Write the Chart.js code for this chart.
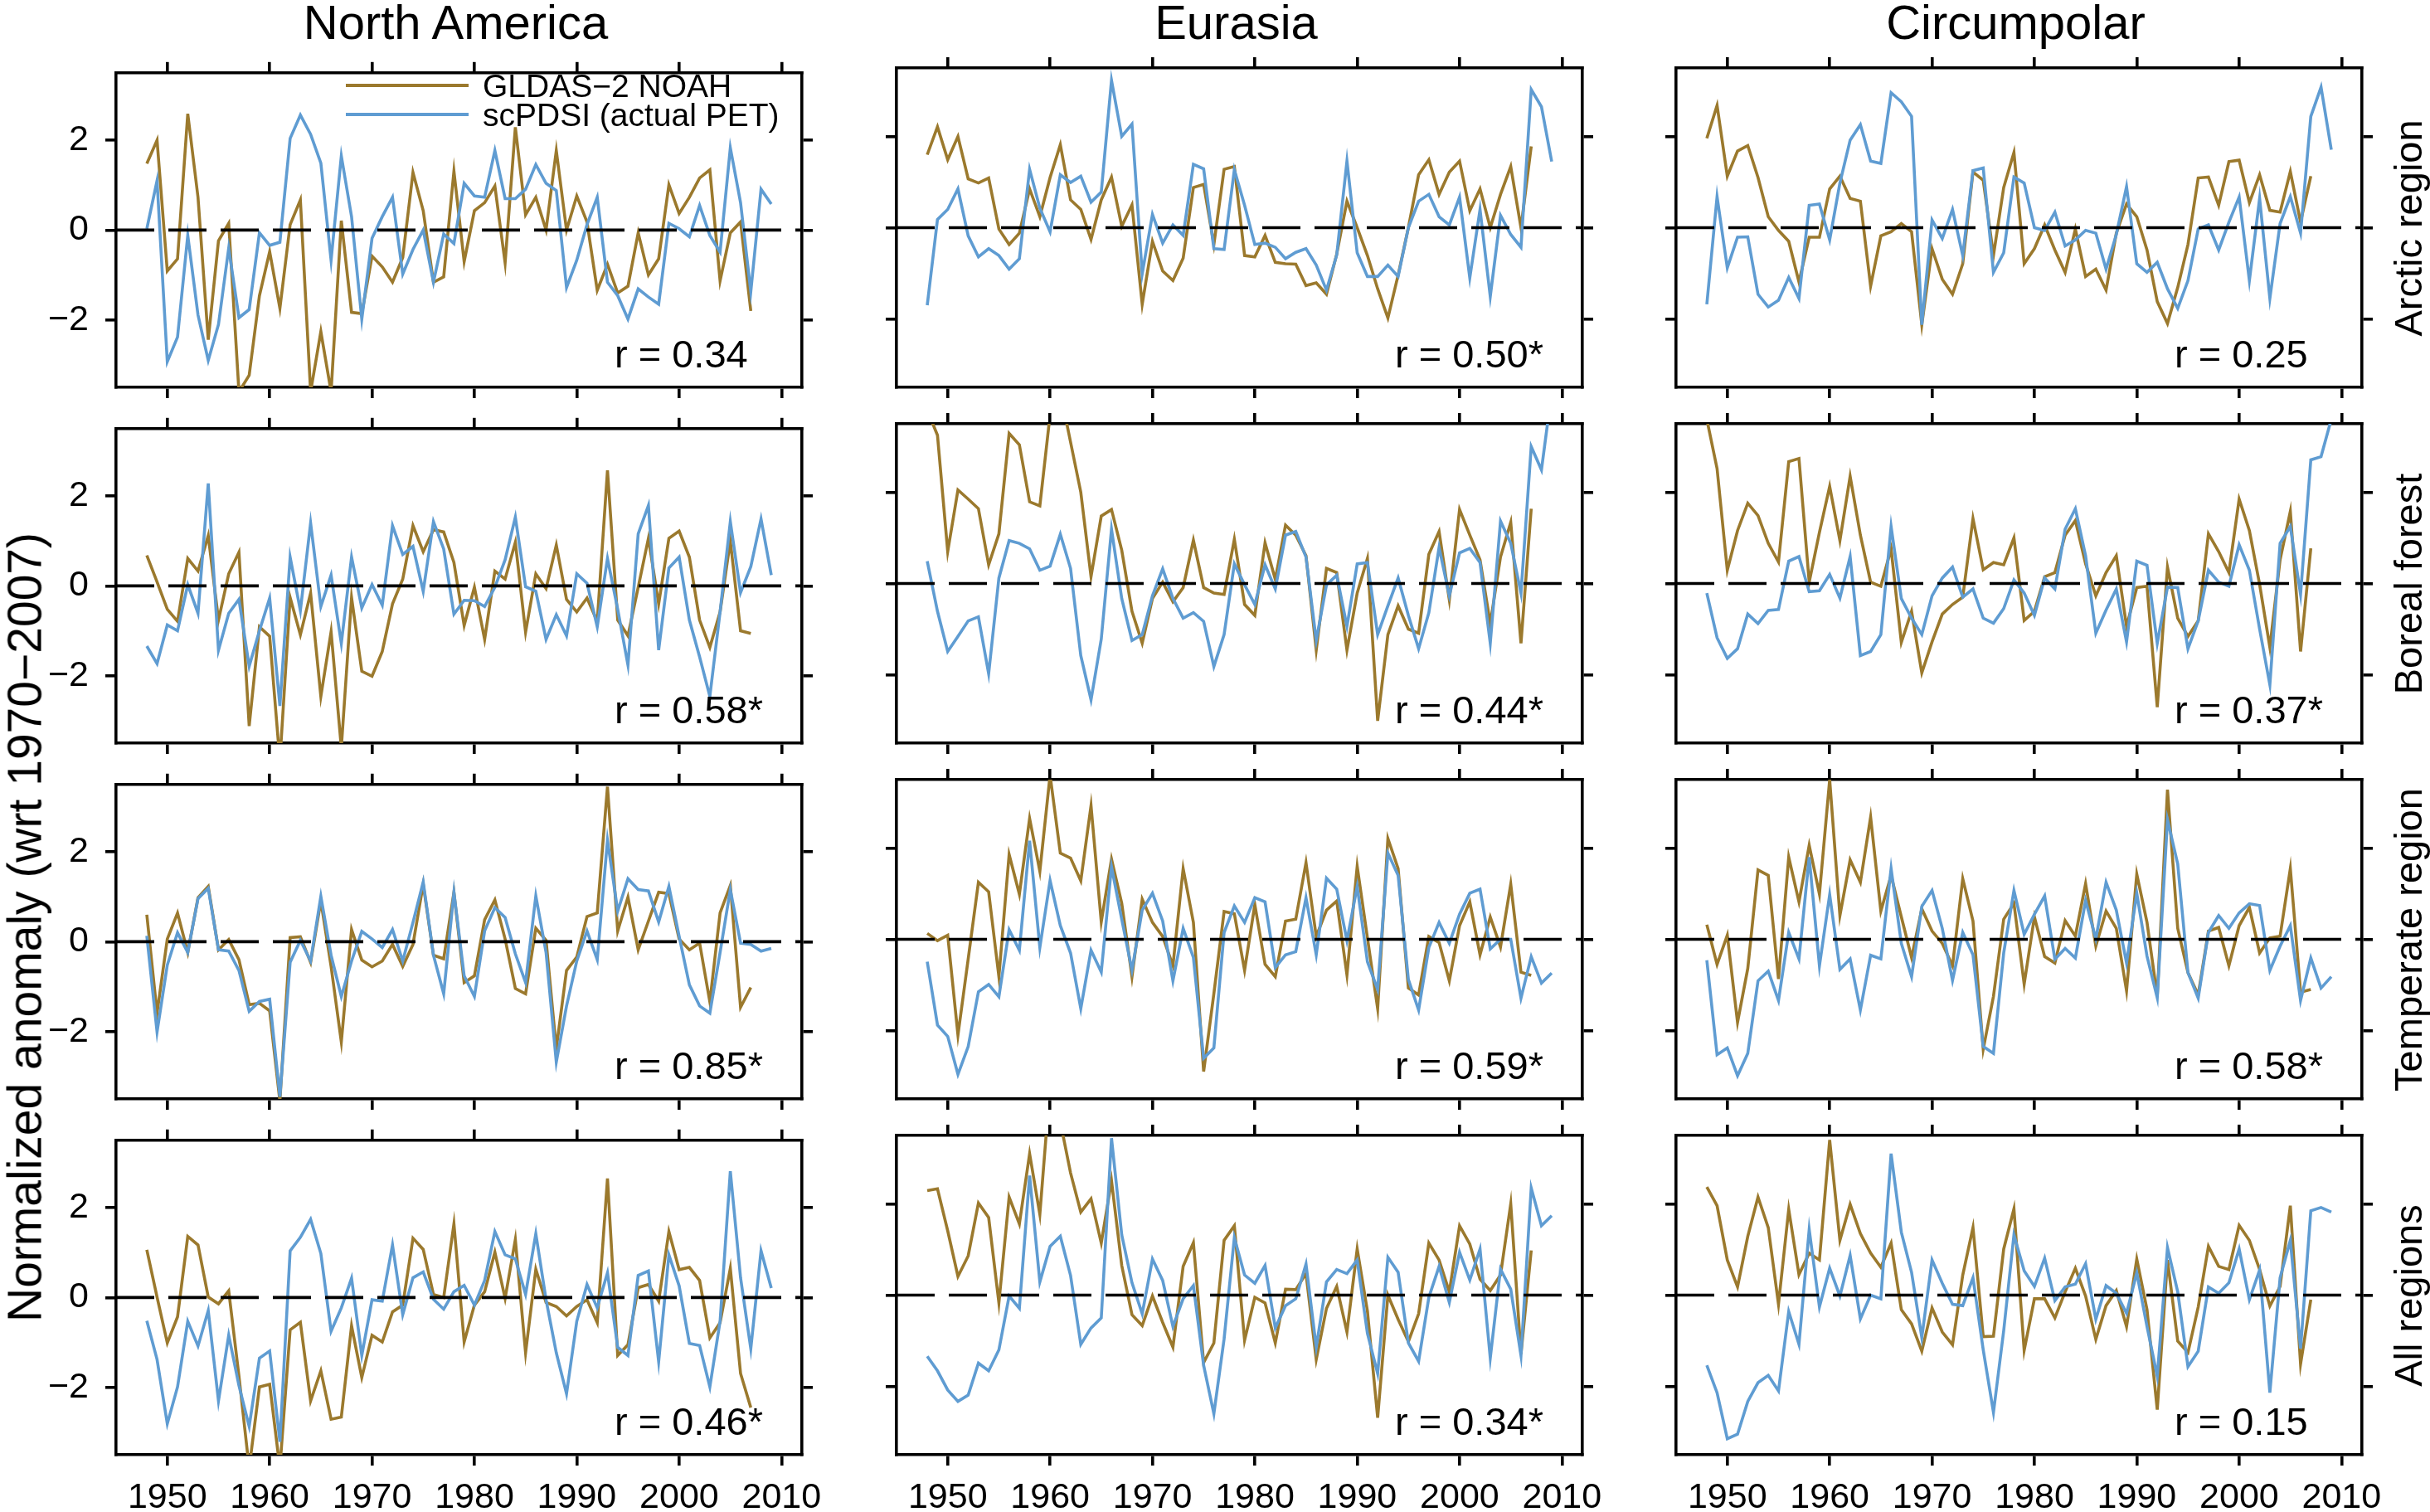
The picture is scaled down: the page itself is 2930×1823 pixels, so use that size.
<!DOCTYPE html>
<html>
<head>
<meta charset="utf-8">
<script src="https://cdn.jsdelivr.net/npm/chart.js@4.4.1/dist/chart.umd.min.js"></script>
<style>
html,body{margin:0;padding:0;background:#fff;width:2930px;height:1823px;overflow:hidden;font-family:"Liberation Sans",Arial,sans-serif;}
#wrap{position:relative;width:2930px;height:1823px;}
canvas{position:absolute;}
.txt{position:absolute;white-space:nowrap;color:#000;}
.sw{position:absolute;height:3.5px;}
</style>
</head>
<body>
<div id="wrap"></div>
<script>
// ---------------- DATA ----------------
const gldasYears = [1948,1949,1950,1951,1952,1953,1954,1955,1956,1957,1958,1959,1960,1961,1962,1963,1964,1965,1966,1967,1968,1969,1970,1971,1972,1973,1974,1975,1976,1977,1978,1979,1980,1981,1982,1983,1984,1985,1986,1987,1988,1989,1990,1991,1992,1993,1994,1995,1996,1997,1998,1999,2000,2001,2002,2003,2004,2005,2006,2007];
const pdsiYears = [1948,1949,1950,1951,1952,1953,1954,1955,1956,1957,1958,1959,1960,1961,1962,1963,1964,1965,1966,1967,1968,1969,1970,1971,1972,1973,1974,1975,1976,1977,1978,1979,1980,1981,1982,1983,1984,1985,1986,1987,1988,1989,1990,1991,1992,1993,1994,1995,1996,1997,1998,1999,2000,2001,2002,2003,2004,2005,2006,2007,2008,2009];
const xTicks = [1950,1960,1970,1980,1990,2000,2010];
const xTickLabels = ['1950','1960','1970','1980','1990','2000','2010'];
const yTicks = [-2,0,2];
const yTickLabels = ['\u22122','0','2'];
const columnTitles = ['North America','Eurasia','Circumpolar'];
const rowTitles = ['Arctic region','Boreal forest','Temperate region','All regions'];
const seriesNames = ['GLDAS\u22122 NOAH','scPDSI (actual PET)'];
const yAxisTitle = 'Normalized anomaly (wrt 1970\u22122007)';
const rLabels = ['r = 0.34','r = 0.50*','r = 0.25','r = 0.58*','r = 0.44*','r = 0.37*','r = 0.85*','r = 0.59*','r = 0.58*','r = 0.46*','r = 0.34*','r = 0.15'];

const naArcticGldas = [1.48,2.0,-0.91,-0.64,2.59,0.73,-2.44,-0.24,0.15,-3.6, -3.23,-1.46,-0.48,-1.74,0.12,0.67,-3.6,-2.26,-3.6,0.21, -1.83,-1.86,-0.58,-0.82,-1.16,-0.61,1.28,0.43,-1.16,-1.04, 1.31,-0.70,0.43,0.61,0.98,-0.73,2.29,0.34,0.73,0, 1.77,0,0.76,0.18,-1.34,-0.76,-1.40,-1.25,-0.06,-1.0, -0.64,1.01,0.37,0.73,1.16,1.34,-1.13,-0.06,0.18,-1.80];
const naArcticPdsi = [0.03,1.10,-2.93,-2.38,-0.12,-1.89,-2.90,-2.10,-0.40,-1.95, -1.77,-0.06,-0.34,-0.27,2.04,2.56,2.13,1.49,-0.67,1.65, 0.30,-1.98,-0.18,0.30,0.73,-0.98,-0.43,0,-1.16,-0.09, -0.30,1.04,0.76,0.73,1.77,0.70,0.70,0.91,1.46,1.04, 0.88,-1.28,-0.67,0.12,0.73,-1.16,-1.46,-1.98,-1.31,-1.49, -1.65,0.15,0.03,-0.15,0.55,-0.12,-0.49,1.83,0.61,-1.37, 0.91,0.58];
const euArcticGldas = [1.60,2.21,1.49,2.0,1.07,0.98,1.09,-0.03,-0.37,-0.12, 0.85,0.24,1.10,1.82,0.61,0.40,-0.26,0.61,1.11,0.03, 0.50,-1.68,-0.30,-0.95,-1.16,-0.67,0.88,0.95,-0.37,1.28, 1.34,-0.61,-0.64,-0.17,-0.76,-0.79,-0.80,-1.27,-1.21,-1.46, -0.58,0.58,0,-0.61,-1.34,-1.98,-1.04,0,1.16,1.49, 0.73,1.22,1.46,0.37,0.85,0,0.73,1.34,0,1.78];
const euArcticPdsi = [-1.70,0.18,0.40,0.85,-0.18,-0.64,-0.46,-0.61,-0.91,-0.68, 1.28,0.43,-0.09,1.16,0.99,1.13,0.56,0.78,3.23,2.0, 2.27,-1.01,0.29,-0.34,0.06,-0.17,1.39,1.29,-0.46,-0.48, 1.27,0.49,-0.37,-0.34,-0.43,-0.68,-0.54,-0.46,-0.82,-1.37, -0.60,1.46,-0.55,-1.07,-1.07,-0.82,-1.07,0,0.58,0.73, 0.24,0.06,0.67,-1.10,0.40,-1.51,0.27,-0.15,-0.43,3.03, 2.65,1.45];
const cpArcticGldas = [1.96,2.68,1.13,1.68,1.80,1.10,0.24,-0.06,-0.30,-1.19, -0.21,-0.21,0.85,1.13,0.64,0.58,-1.28,-0.18,-0.09,0.09, -0.09,-2.13,-0.46,-1.13,-1.46,-0.79,1.22,1.04,-0.61,0.88, 1.65,-0.79,-0.46,0.06,-0.49,-0.98,-0.03,-1.07,-0.91,-1.37, -0.12,0.52,0.24,-0.49,-1.62,-2.10,-1.31,-0.37,1.09,1.11, 0.49,1.45,1.48,0.55,1.16,0.38,0.34,1.23,0.12,1.13];
const cpArcticPdsi = [-1.68,0.68,-0.88,-0.21,-0.20,-1.46,-1.74,-1.59,-1.09,-1.55, 0.49,0.52,-0.27,0.98,1.92,2.26,1.46,1.41,2.96,2.76, 2.44,-2.13,0.17,-0.24,0.40,-0.61,1.25,1.31,-0.98,-0.55, 1.11,0.98,0,-0.06,0.34,-0.40,-0.27,-0.06,-0.12,-0.91, -0.15,0.90,-0.79,-0.98,-0.76,-1.34,-1.77,-1.16,-0.03,0.06, -0.49,0.12,0.67,-1.16,0.64,-1.55,0.09,0.68,-0.12,2.44, 3.08,1.71];

const naBorealGldas = [0.68,0.09,-0.52,-0.79,0.61,0.33,1.12,-0.76,0.27,0.75, -3.12,-0.91,-1.12,-3.9,-0.26,-1.09,-0.16,-2.46,-1.02,-3.6, -0.26,-1.90,-2.01,-1.46,-0.40,0.15,1.34,0.76,1.25,1.20, 0.52,-0.88,-0.03,-1.19,0.33,0.15,0.97,-1.03,0.27,-0.06, 0.91,-0.30,-0.58,-0.27,-0.79,2.57,-0.76,-1.11,-0.03,1.06, -0.40,1.06,1.22,0.64,-0.76,-1.37,-0.58,1.00,-1.00,-1.06];
const naBorealPdsi = [-1.34,-1.73,-0.87,-1.00,0.03,-0.61,2.28,-1.43,-0.61,-0.30, -1.79,-1.00,-0.27,-2.67,0.64,-0.55,1.40,-0.46,0.24,-1.28, 0.64,-0.49,0.03,-0.43,1.34,0.70,0.88,-0.12,1.43,0.82, -0.63,-0.32,-0.33,-0.46,-0.03,0.58,1.53,-0.02,-0.12,-1.19, -0.64,-1.11,0.27,0.06,-0.91,0.61,-0.52,-1.76,1.16,1.79, -1.43,0.40,0.64,-0.76,-1.58,-2.46,-0.58,1.43,-0.15,0.43, 1.49,0.24];
const euBorealGldas = [3.8,3.25,0.70,2.05,1.85,1.64,0.41,1.09,3.29,3.04, 1.79,1.70,3.7,4.2,3.1,2.0,0.15,1.48,1.62,0.73, -0.61,-1.31,-0.33,0.03,-0.40,-0.09,0.95,-0.09,-0.21,-0.24, 0.97,-0.46,-0.70,0.89,0.09,1.28,1.06,0.61,-1.46,0.33, 0.24,-1.46,-0.21,0.55,-3.01,-1.12,-0.49,-1.00,-1.09,0.64, 1.14,-0.36,1.62,1.06,0.52,-0.88,0.58,1.34,-1.31,1.64];
const euBorealPdsi = [0.49,-0.61,-1.49,-1.16,-0.82,-0.73,-1.98,0.12,0.94,0.88, 0.76,0.29,0.38,1.08,0.33,-1.58,-2.55,-1.22,1.19,-0.33, -1.25,-1.12,-0.27,0.32,-0.33,-0.76,-0.64,-0.83,-1.82,-1.12, 0.43,-0.03,-0.46,0.41,-0.12,1.06,1.14,0.58,-1.25,-0.03, 0.18,-0.94,0.43,0.46,-1.12,-0.49,0.12,-0.70,-1.43,-0.64, 0.79,-0.27,0.67,0.77,0.46,-1.31,1.37,0.88,-0.21,3.00, 2.49,4.2];
const cpBorealGldas = [3.6,2.52,0.29,1.16,1.76,1.49,0.88,0.47,2.67,2.74, 0.03,1.12,2.13,0.94,2.35,1.06,0.03,-0.06,0.76,-1.29, -0.61,-1.96,-1.28,-0.67,-0.46,-0.30,1.42,0.30,0.46,0.41, 1.00,-0.81,-0.61,0.15,0.24,1.06,1.38,0.43,-0.27,0.24, 0.61,-0.94,-0.09,-0.06,-2.71,0.36,-0.76,-1.16,-0.82,1.09, 0.70,0.24,1.85,1.16,-0.02,-1.40,0.52,1.58,-1.49,0.77];
const cpBorealPdsi = [-0.21,-1.19,-1.64,-1.43,-0.67,-0.88,-0.59,-0.57,0.49,0.59, -0.18,-0.16,0.20,-0.32,0.59,-1.58,-1.49,-1.12,1.25,-0.33, -0.76,-1.12,-0.27,0.12,0.36,-0.30,-0.12,-0.76,-0.87,-0.55, 0.08,-0.21,-0.70,0.12,-0.12,1.19,1.64,0.61,-1.09,-0.58, -0.12,-1.28,0.49,0.40,-1.31,-0.08,-0.09,-1.43,-0.82,0.29, 0.03,-0.06,0.85,0.29,-1.00,-2.22,0.88,1.25,-0.24,2.71, 2.78,3.6];

const naTemperateGldas = [0.60,-1.59,0.06,0.64,-0.24,0.98,1.23,-0.18,0.05,-0.40, -1.40,-1.37,-1.54,-3.55,0.09,0.11,-0.46,0.91,-0.55,-2.23, 0.27,-0.41,-0.56,-0.43,-0.06,-0.55,-0.06,1.28,-0.30,-0.38, 1.10,-0.91,-0.76,0.49,0.93,0.06,-1.04,-1.16,0.30,0.03, -2.38,-0.64,-0.34,0.56,0.64,3.45,0.24,0.99,-0.18,0.46, 1.10,1.07,0.06,-0.18,-0.03,-1.34,0.64,1.25,-1.46,-1.02];
const naTemperatePdsi = [0.13,-2.01,-0.52,0.20,-0.24,0.96,1.19,-0.18,-0.21,-0.64, -1.55,-1.33,-1.28,-3.45,-0.46,0.03,-0.43,1.01,-0.30,-1.22, -0.43,0.23,0.06,-0.13,0.27,-0.43,0.43,1.33,-0.30,-1.16, 1.10,-0.76,-1.22,0.24,0.76,0.54,-0.27,-0.91,1.02,-0.24, -2.68,-1.43,-0.43,0.24,-0.40,2.26,0.68,1.40,1.16,1.13, 0.44,1.23,0.12,-0.96,-1.43,-1.59,-0.24,1.16,-0.03,-0.06, -0.21,-0.15];
const euTemperateGldas = [0.13,-0.03,0.09,-2.10,-0.43,1.25,1.04,-0.82,1.86,0.99, 2.65,1.49,3.6,1.89,1.78,1.28,2.93,0.38,1.76,0.79, -0.82,0.88,0.37,0.06,-0.58,1.55,0.37,-2.90,-1.19,0.61, 0.56,-0.68,0.76,-0.55,-0.82,0.40,0.44,1.68,0.06,0.64, 0.84,-0.78,1.60,0.03,-1.52,2.21,1.55,-1.07,-1.22,0.06, -0.07,-0.91,0.30,0.82,-0.34,0.49,-0.17,1.21,-0.72,-0.79];
const euTemperatePdsi = [-0.49,-1.88,-2.13,-2.96,-2.35,-1.15,-0.99,-1.26,0.21,-0.24, 2.16,-0.18,1.29,0.30,-0.30,-1.52,-0.24,-0.72,1.59,0.44, -0.68,0.64,1.01,0.40,-0.91,0.24,-0.40,-2.61,-2.38,0.15, 0.73,0.37,0.91,0.82,-0.62,-0.34,-0.27,0.91,-0.34,1.34, 1.10,-0.03,1.16,-0.49,-1.10,1.89,1.40,-0.88,-1.55,-0.18, 0.37,-0.09,0.55,1.01,1.10,-0.21,0,0,-1.29,-0.38, -0.96,-0.74];
const cpTemperateGldas = [0.32,-0.55,0.09,-1.82,-0.64,1.52,1.40,-0.87,1.80,0.82, 2.06,0.99,3.5,0.52,1.74,1.25,2.68,0.62,1.40,0.49, -0.40,0.67,0.18,-0.09,-0.58,1.33,0.40,-2.41,-1.25,0.44, 0.79,-0.98,0.49,-0.38,-0.52,0.41,0.07,1.22,-0.15,0.62, 0.24,-1.13,1.43,0.37,-1.25,3.28,0.24,-0.73,-1.22,0.18, 0.26,-0.58,0.30,0.70,-0.30,0.03,0.07,1.55,-1.16,-1.10];
const cpTemperatePdsi = [-0.46,-2.53,-2.38,-2.99,-2.50,-0.91,-0.70,-1.34,0.15,-0.43, 1.80,-0.58,0.98,-0.66,-0.43,-1.55,-0.35,-0.43,1.55,-0.09, -0.82,0.72,1.07,0.24,-0.90,0.15,-0.34,-2.35,-2.50,-0.30, 1.07,0.11,0.55,0.95,-0.44,-0.20,-0.41,0.85,0.01,1.25, 0.64,-0.52,1.01,-0.37,-1.28,2.62,1.65,-0.73,-1.29,0.15, 0.52,0.24,0.58,0.78,0.74,-0.68,-0.15,0.30,-1.34,-0.41, -1.07,-0.82];

const naAllGldas = [1.06,0.01,-1.01,-0.43,1.36,1.17,0.01,-0.14,0.15,-1.75, -3.8,-1.99,-1.93,-3.8,-0.72,-0.55,-2.30,-1.63,-2.71,-2.66, -0.63,-1.78,-0.84,-0.99,-0.32,-0.17,1.32,1.07,0.07,0, 1.64,-0.99,-0.17,0.13,1.01,-0.02,1.29,-1.23,0.63,-0.11, -0.20,-0.41,-0.20,-0.05,-0.56,2.65,-1.29,-1.05,0.22,0.29, -0.08,1.47,0.62,0.67,0.38,-0.90,-0.56,0.65,-1.69,-2.45];
const naAllPdsi = [-0.52,-1.38,-2.81,-1.99,-0.53,-1.08,-0.29,-2.30,-0.84,-1.96, -2.87,-1.35,-1.19,-3.21,1.04,1.34,1.74,0.98,-0.75,-0.23, 0.43,-1.29,-0.05,-0.08,1.17,-0.38,0.44,0.57,-0.04,-0.26, 0.13,0.27,-0.17,0.38,1.47,0.95,0.86,0.07,1.42,-0.05, -1.23,-2.14,-0.53,0.29,-0.23,0.55,-1.11,-1.29,0.49,0.59, -1.43,0.95,0.26,-1.02,-1.07,-1.99,-0.53,2.81,0.44,-1.14, 1.04,0.21];
const euAllGldas = [2.29,2.33,1.41,0.41,0.86,2.02,1.70,-0.17,2.15,1.56, 3.10,1.77,4.6,3.8,2.68,1.82,2.11,1.14,2.51,0.65, -0.43,-0.67,-0.02,-0.60,-1.14,0.63,1.15,-1.48,-1.05,1.20, 1.52,-0.99,-0.05,-0.17,-1.05,0.13,0.12,0.47,-1.41,-0.29, 0.19,-0.81,1.01,-0.35,-2.69,0,-0.53,-1.02,-0.41,1.14, 0.77,0.07,1.52,1.12,0.35,0.10,0.44,2.00,-1.29,0.98];
const euAllPdsi = [-1.34,-1.66,-2.08,-2.33,-2.19,-1.49,-1.66,-1.20,-0.02,-0.29, 2.62,0.29,1.07,1.29,0.43,-1.08,-0.72,-0.50,3.44,1.32, 0.27,-0.41,0.79,0.32,-0.69,-0.08,0.21,-1.54,-2.60,-0.96, 1.26,0.44,0.26,0.65,-0.72,-0.23,-0.08,0.68,-1.14,0.29, 0.56,0.47,0.77,-0.84,-1.72,0.83,0.50,-1.05,-1.45,-0.05, 0.63,-0.16,0.94,0.33,1.01,-1.38,0.57,0.13,-1.32,2.35, 1.52,1.74];
const cpAllGldas = [2.37,1.96,0.77,0.18,1.29,2.15,1.48,-0.20,1.88,0.45, 0.92,0.77,3.40,1.20,1.99,1.35,0.92,0.61,1.14,-0.32, -0.63,-1.23,-0.28,-0.81,-1.09,0.44,1.48,-0.91,-0.90,1.01, 1.89,-1.21,-0.08,-0.08,-0.50,0.07,0.59,-0.02,-0.97,-0.23, 0.10,-0.69,0.79,-0.32,-2.51,0.77,-1.01,-1.26,-0.26,1.07, 0.63,0.56,1.53,1.20,0.56,-0.24,0.19,1.96,-1.51,-0.10];
const cpAllPdsi = [-1.54,-2.14,-3.15,-3.05,-2.33,-1.92,-1.76,-2.10,-0.36,-1.08, 1.44,-0.26,0.59,-0.02,0.87,-0.52,0,-0.08,3.10,1.38, 0.50,-0.93,0.77,0.26,-0.20,-0.23,0.38,-1.20,-2.57,-0.78, 1.32,0.53,0.19,0.81,-0.12,0.18,0.24,0.69,-0.53,0.21, 0.04,-0.40,0.49,-0.69,-1.78,1.04,0.07,-1.57,-1.23,0.18, 0.04,0.27,1.01,-0.10,0.55,-2.14,0.38,1.20,-1.17,1.85, 1.92,1.82];

// ---------------- LAYOUT / STYLE ----------------
const BROWN = '#9b792d';
const BLUE = '#5f9cd2';
const X_MIN = 1945, X_MAX = 2012, Y_MIN = -3.5, Y_MAX = 3.5;
const PANEL_LEFT = [140, 1081, 2021];
const PANEL_TOP = [82, 511, 940, 1369];
const PANEL_W = 827, PANEL_H = 385;
const PAD_L = 140, PAD_R = 40, PAD_T = 40, PAD_B = 68;
const FONT = '"Liberation Sans", Arial, Helvetica, sans-serif';
const LINE_W = 3.6, FRAME_W = 3.6;

Chart.defaults.font.family = FONT;
Chart.defaults.color = '#000';

const panels = [
  [naArcticGldas, naArcticPdsi], [euArcticGldas, euArcticPdsi], [cpArcticGldas, cpArcticPdsi],
  [naBorealGldas, naBorealPdsi], [euBorealGldas, euBorealPdsi], [cpBorealGldas, cpBorealPdsi],
  [naTemperateGldas, naTemperatePdsi], [euTemperateGldas, euTemperatePdsi], [cpTemperateGldas, cpTemperatePdsi],
  [naAllGldas, naAllPdsi], [euAllGldas, euAllPdsi], [cpAllGldas, cpAllPdsi]
];

const zeroLine = {
  id: 'zeroLine',
  afterDatasetsDraw(chart) {
    const {ctx, chartArea, scales} = chart;
    const y = scales.y.getPixelForValue(0);
    ctx.save();
    ctx.strokeStyle = '#000';
    ctx.lineWidth = 3.6;
    ctx.setLineDash([46, 17]);
    ctx.beginPath();
    ctx.moveTo(chartArea.left, y);
    ctx.lineTo(chartArea.right, y);
    ctx.stroke();
    ctx.restore();
  }
};

const wrap = document.getElementById('wrap');

function axisCommon() {
  return {
    border: {display: true, color: '#000', width: FRAME_W},
    grid: {drawOnChartArea: false, drawTicks: true, tickLength: 13, color: '#000', lineWidth: FRAME_W, tickWidth: FRAME_W, tickColor: '#000'}
  };
}

function makePanel(idx) {
  const row = Math.floor(idx / 3), col = idx % 3;
  const [gl, pd] = panels[idx];
  const cv = document.createElement('canvas');
  const W = PAD_L + PANEL_W + PAD_R, H = PAD_T + PANEL_H + PAD_B;
  cv.width = W; cv.height = H;
  cv.style.left = (PANEL_LEFT[col] - PAD_L) + 'px';
  cv.style.top = (PANEL_TOP[row] - PAD_T) + 'px';
  cv.style.width = W + 'px'; cv.style.height = H + 'px';
  wrap.appendChild(cv);
  const showY = col === 0, showX = row === 3;
  new Chart(cv, {
    type: 'line',
    data: {
      datasets: [
        {label: seriesNames[0], data: gldasYears.map((yr, i) => ({x: yr, y: gl[i]})), borderColor: BROWN, borderWidth: LINE_W, pointRadius: 0, tension: 0, fill: false, order: 1},
        {label: seriesNames[1], data: pdsiYears.map((yr, i) => ({x: yr, y: pd[i]})), borderColor: BLUE, borderWidth: LINE_W, pointRadius: 0, tension: 0, fill: false, order: 0}
      ]
    },
    options: {
      responsive: false,
      animation: false,
      devicePixelRatio: 1,
      layout: {padding: 0},
      plugins: {legend: {display: false}, tooltip: {enabled: false}},
      scales: {
        x: Object.assign(axisCommon(), {
          type: 'linear', position: 'bottom', min: X_MIN, max: X_MAX,
          afterBuildTicks: s => { s.ticks = xTicks.map(v => ({value: v})); },
          afterFit: s => { s.height = PAD_B; },
          ticks: {display: showX, autoSkip: false, maxRotation: 0, padding: 13, font: {size: 43, family: FONT}, color: '#000',
                  callback: v => xTickLabels[xTicks.indexOf(v)]}
        }),
        x2: Object.assign(axisCommon(), {
          type: 'linear', position: 'top', min: X_MIN, max: X_MAX,
          afterBuildTicks: s => { s.ticks = xTicks.map(v => ({value: v})); },
          afterFit: s => { s.height = PAD_T; },
          ticks: {display: false}
        }),
        y: Object.assign(axisCommon(), {
          type: 'linear', position: 'left', min: Y_MIN, max: Y_MAX,
          afterBuildTicks: s => { s.ticks = yTicks.map(v => ({value: v})); },
          afterFit: s => { s.width = PAD_L; },
          ticks: {display: showY, padding: 20, font: {size: 43, family: FONT}, color: '#000',
                  callback: v => yTickLabels[yTicks.indexOf(v)]}
        }),
        y2: Object.assign(axisCommon(), {
          type: 'linear', position: 'right', min: Y_MIN, max: Y_MAX,
          afterBuildTicks: s => { s.ticks = yTicks.map(v => ({value: v})); },
          afterFit: s => { s.width = PAD_R; },
          ticks: {display: false}
        })
      }
    },
    plugins: [zeroLine]
  });
}

for (let i = 0; i < panels.length; i++) makePanel(i);

function addText(text, css) {
  const d = document.createElement('div');
  d.className = 'txt';
  d.textContent = text;
  Object.assign(d.style, css);
  wrap.appendChild(d);
  return d;
}

// column titles
columnTitles.forEach((t, c) => {
  addText(t, {left: (PANEL_LEFT[c] + PANEL_W / 2 - 4) + 'px', top: '-2px', fontSize: '58px', lineHeight: '58px', transform: 'translateX(-50%)'});
});
// row labels (right side, rotated)
rowTitles.forEach((t, r) => {
  addText(t, {left: '2903px', top: (PANEL_TOP[r] + PANEL_H / 2) + 'px', fontSize: '47px', lineHeight: '47px', transform: 'translate(-50%,-50%) rotate(-90deg)'});
});
// y-axis title
addText(yAxisTitle, {left: '30px', top: '1118px', fontSize: '57px', lineHeight: '57px', transform: 'translate(-50%,-50%) rotate(-90deg)'});
// r labels
rLabels.forEach((t, i) => {
  const row = Math.floor(i / 3), col = i % 3;
  addText(t, {left: (PANEL_LEFT[col] + PANEL_W - 226) + 'px', top: (PANEL_TOP[row] + PANEL_H - 64) + 'px', fontSize: '47px', lineHeight: '47px'});
});
// legend (inside first panel)
[BROWN, BLUE].forEach((c, i) => {
  const cy = [103, 138][i];
  const sw = document.createElement('div');
  sw.className = 'sw';
  Object.assign(sw.style, {left: '417px', width: '148px', top: (cy - 1.75) + 'px', background: c});
  wrap.appendChild(sw);
  addText(seriesNames[i], {left: '582px', top: (cy - 19) + 'px', fontSize: '39px', lineHeight: '39px'});
});
</script>
</body>
</html>
